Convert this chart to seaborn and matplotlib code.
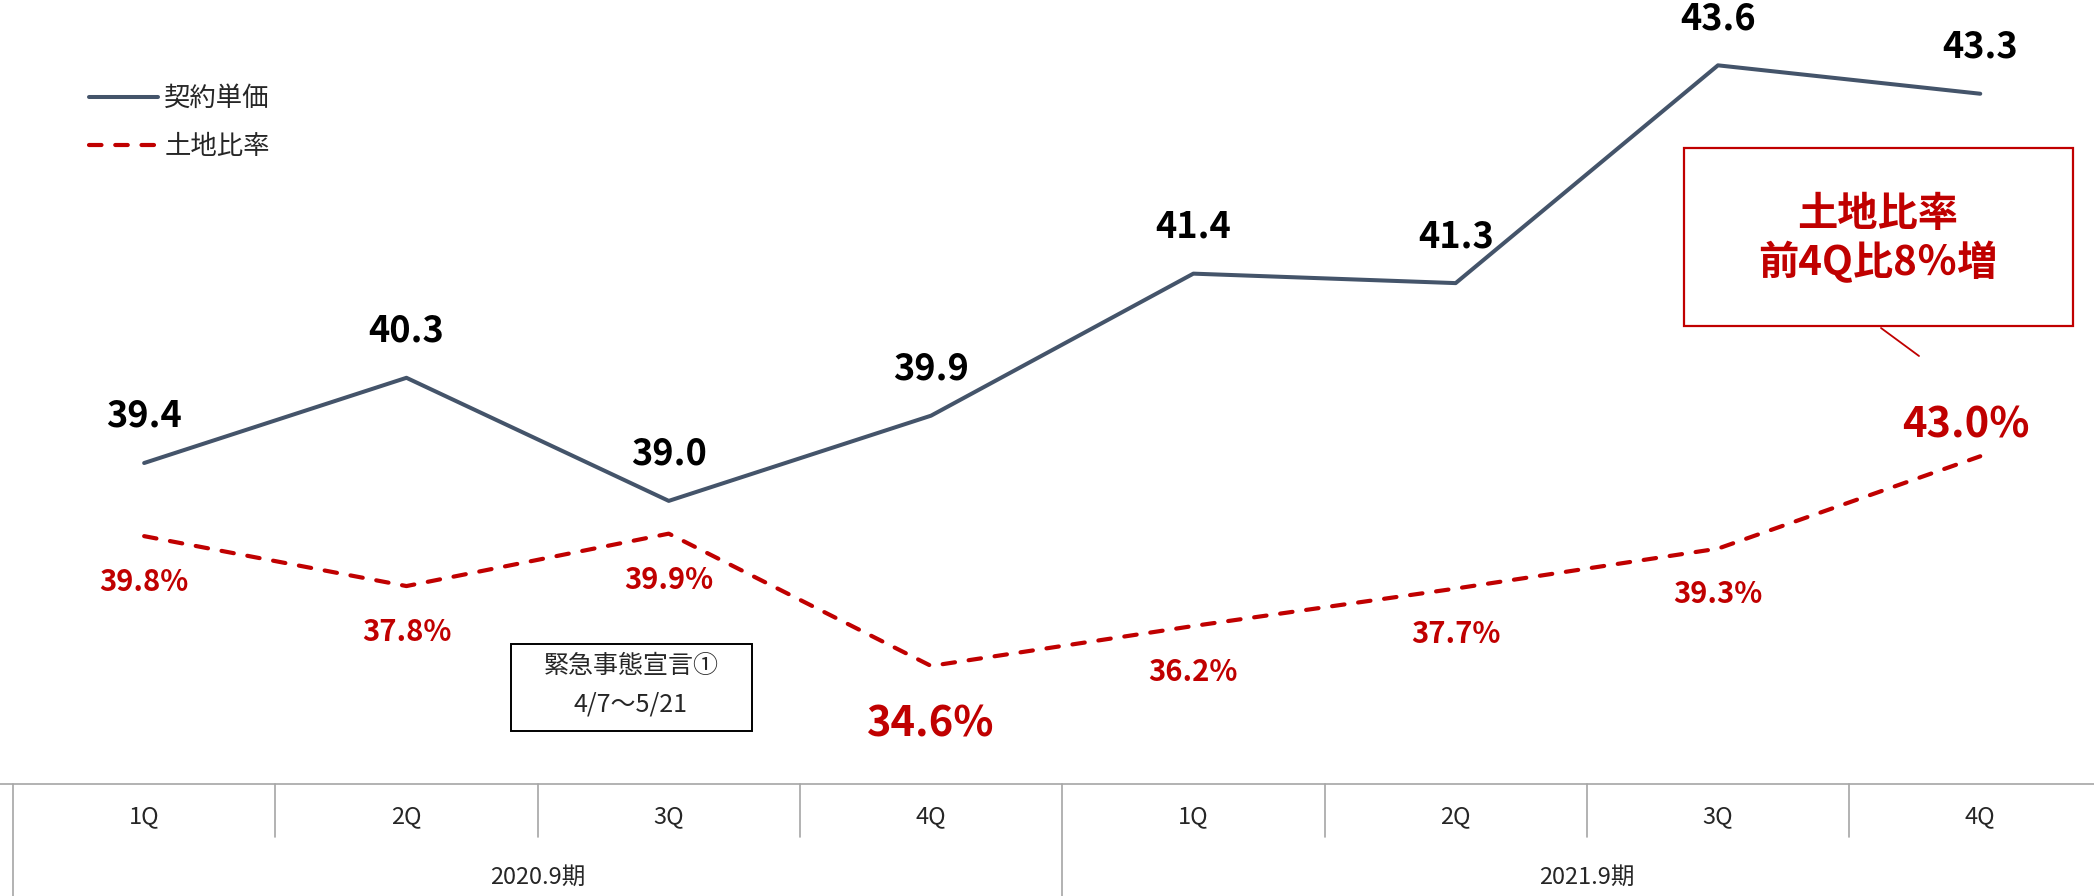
import matplotlib
matplotlib.use("Agg")
import matplotlib.pyplot as plt
import matplotlib.transforms as mtransforms
from matplotlib.patches import Rectangle
from matplotlib.lines import Line2D
import seaborn as sns
import pandas as pd

# data
quarters = ["1Q", "2Q", "3Q", "4Q", "1Q", "2Q", "3Q", "4Q"]
periods = ["2020.9期", "2021.9期"]
unit_price = [39.4, 40.3, 39.0, 39.9, 41.4, 41.3, 43.6, 43.3]
land_ratio = [39.8, 37.8, 39.9, 34.6, 36.2, 37.7, 39.3, 43.0]
big_labels = [3, 7]  # land ratio labels drawn larger

NAVY = "#44546a"
RED = "#c00000"
GRID = "#a6a6a6"

sns.set_style("white")
plt.rcParams["font.family"] = ["Noto Sans CJK JP", "DejaVu Sans"]

df = pd.DataFrame({"x": range(len(quarters)), "price": unit_price, "ratio": land_ratio})

W, H = 2094, 896
fig = plt.figure(figsize=(W / 100, H / 100), dpi=100)

def fx(px):
  return px / W

def fy(py):
  return 1 - py / H

cell = 262.3
ax = fig.add_axes([fx(13), fy(784), fx(cell * len(quarters)), 784 / H])
ax2 = ax.twinx()

sns.lineplot(data=df, x="x", y="price", ax=ax, color=NAVY, linewidth=2.9, label="契約単価", legend=False)
sns.lineplot(data=df, x="x", y="ratio", ax=ax2, color=RED, linewidth=3.0, label="土地比率", legend=False)
red_line = ax2.lines[0]
red_line.set_dashes((3.0, 3.3))
red_line.set_dash_capstyle("round")

ax.set_xlim(-0.5, len(quarters) - 0.5)
ax.set_ylim(36.01, 44.29)
ax2.set_ylim(29.87, 61.28)
for a in (ax, ax2):
  a.axis("off")

# value labels
for i, v in enumerate(unit_price):
  ax.annotate(f"{v:.1f}", (i, v), xytext=(0, 26), textcoords="offset points",
              ha="center", va="baseline", fontsize=26, fontweight="bold", color="black")

for i, v in enumerate(land_ratio):
  if i == len(land_ratio) - 1:
    off, fs = (-10, 13.5), 30
  elif i in big_labels:
    off, fs = (0, -51), 30
  else:
    off, fs = (0, -39.5), 21
  ax2.annotate(f"{v:.1f}%", (i, v), xytext=off, textcoords="offset points",
               ha="center", va="baseline", fontsize=fs, fontweight="bold", color=RED)

# legend
handles = [ax.lines[0], red_line]
leg = ax.legend(handles, ["契約単価", "土地比率"], loc="upper left",
                bbox_to_anchor=(fx(89), fy(85)), bbox_transform=fig.transFigure,
                frameon=False, fontsize=19, handlelength=2.6, handletextpad=0.25,
                labelspacing=0.8, borderaxespad=0, borderpad=0)
for t in leg.get_texts():
  t.set_color("#262626")

# category table under the chart
trans = mtransforms.blended_transform_factory(ax.transData, fig.transFigure)
fig.add_artist(Line2D([0, 1], [fy(784), fy(784)], transform=fig.transFigure, color=GRID, lw=1.2))
for i, q in enumerate(quarters):
  fig.text(i, fy(817), q, transform=trans, ha="center", va="center", fontsize=17, color="#262626")
  left = i - 0.5
  bottom = 0 if i % 4 == 0 else fy(837)
  fig.add_artist(Line2D([left, left], [bottom, fy(784)], transform=trans, color=GRID, lw=1.2))
for j, p in enumerate(periods):
  fig.text(j * 4 + 1.5, fy(877), p, transform=trans, ha="center", va="center", fontsize=17, color="#262626")

# emergency declaration note
fig.add_artist(Rectangle((fx(511), fy(731)), fx(752 - 511), (731 - 644) / H,
                         transform=fig.transFigure, fill=False, edgecolor="black", lw=1.4))
fig.text(fx(631), fy(666), "緊急事態宣言①", ha="center", va="center", fontsize=18, color="#262626")
fig.text(fx(631), fy(705), "4/7～5/21", ha="center", va="center", fontsize=18, color="#262626")

# callout
fig.add_artist(Rectangle((fx(1684), fy(326)), fx(2073 - 1684), (326 - 148) / H,
                         transform=fig.transFigure, fill=False, edgecolor=RED, lw=1.6))
fig.text(fx(1878), fy(214), "土地比率", ha="center", va="center", fontsize=29, fontweight="bold", color=RED)
fig.text(fx(1878), fy(263), "前4Q比8％増", ha="center", va="center", fontsize=29, fontweight="bold", color=RED)
fig.add_artist(Line2D([fx(1881), fx(1919)], [fy(328), fy(356)], transform=fig.transFigure, color=RED, lw=1.3))

fig.savefig("out.png", dpi=100, facecolor="white")
